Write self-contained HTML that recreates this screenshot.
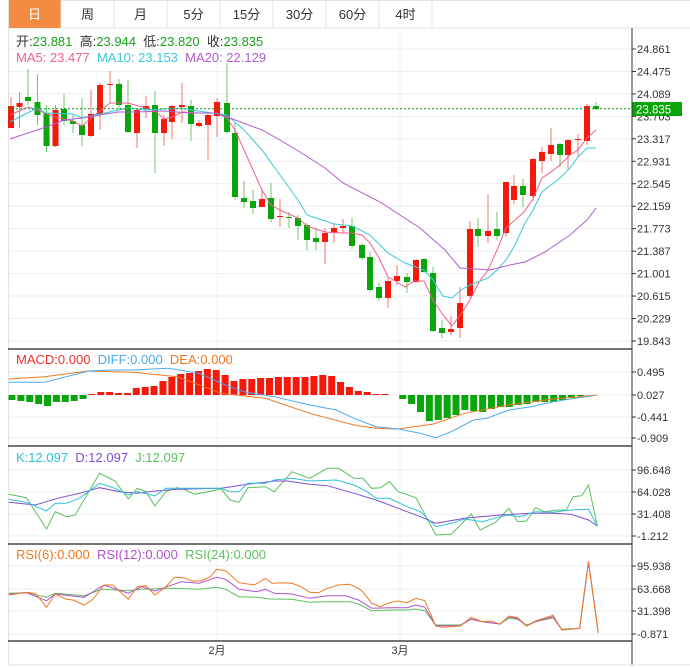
<!DOCTYPE html>
<html><head><meta charset="utf-8"><style>
body{margin:0;background:#fff;width:690px;height:668px;overflow:hidden;font-family:"Liberation Sans","Noto Sans CJK SC",sans-serif}
svg{position:absolute;left:0;top:0}
</style></head><body>
<svg id="s" width="690" height="668" xmlns="http://www.w3.org/2000/svg" font-family="Liberation Sans, Noto Sans CJK SC, sans-serif"></svg>
<script>
const S=document.getElementById('s');let h='';
function L(x1,y1,x2,y2,c,w,extra){h+=`<line x1="${x1}" y1="${y1}" x2="${x2}" y2="${y2}" stroke="${c}" stroke-width="${w||1}" ${extra||''}/>`;}
function R(x,y,w,hh,c){h+=`<rect x="${x}" y="${y}" width="${w}" height="${hh}" fill="${c}"/>`;}
function T(x,y,t,c,sz,a){h+=`<text x="${x}" y="${y}" fill="${c}" font-size="${sz||12}" ${a||''}>${t}</text>`;}
function P(pts,c){h+=`<polyline fill="none" stroke="${c}" stroke-width="1" points="${pts.map(p=>p.join(',')).join(' ')}"/>`;}
function Z(pts,yo){return pts.map(p=>[(p[0]/2.26).toFixed(1),(p[1]/3+yo).toFixed(1)]);}
R(8,0,682,28,'#fff');L(8,28,690,28,'#e3e3e3');L(8,0.5,690,0.5,'#e3e3e3');
const tabs=['日','周','月','5分','15分','30分','60分','4时'];
R(8,0,53,28,'#f38b40');
for(let i=0;i<tabs.length;i++){let x=8+i*53;L(x+53,0,x+53,28,'#e3e3e3');T(x+26.5,19,tabs[i],i==0?'#fff':'#333',13,'text-anchor="middle"');}
L(8.5,0,8.5,665,'#e3e3e3');
const py=p=>49+(24.861-p)/0.386*22.46;
const lv=[24.861,24.475,24.089,23.703,23.317,22.931,22.545,22.159,21.773,21.387,21.001,20.615,20.229,19.843];
lv.forEach(v=>{let y=py(v);L(8,y,632,y,'#e8eef2');L(632,y,636,y,'#333');T(637,y+4,v.toFixed(3),'#333',11);});
[217,400].forEach(x=>L(x,28,x,641,'#eef2f5'));
[[372,.495],[395,.027],[417,-.441],[438,-.909]].forEach(a=>{L(8,a[0],632,a[0],'#e8eef2');L(632,a[0],636,a[0],'#333');T(637,a[0]+4,a[1].toFixed(3),'#333',11);});
[[470,'96.648'],[492,'64.028'],[514,'31.408'],[536,'-1.212']].forEach(a=>{L(8,a[0],632,a[0],'#e8eef2');L(632,a[0],636,a[0],'#333');T(637,a[0]+4,a[1],'#333',11);});
[[566,'95.938'],[589,'63.668'],[611,'31.398'],[634,'-0.871']].forEach(a=>{L(8,a[0],632,a[0],'#e8eef2');L(632,a[0],636,a[0],'#333');T(637,a[0]+4,a[1],'#333',11);});
const C=[[11,'r',106,128,97,128],[19.5,'r',103,107,92,128],[28,'g',97,101,69,105],[37.5,'g',102,115,74,125],[46.5,'g',113,146,105,152],[55.5,'r',110,146,105,147],[64,'g',109,121,94,125],[73,'g',121,124,115,133],[82,'g',125,135,98,146],[91,'r',114,136,90,137],[100,'r',85,114,83,130],[110,'r',84,85,71,103],[119,'g',84,105,79,110],[128,'g',105,132,80,133],[137,'r',110,133,108,148],[146,'r',106,109,96,118],[155,'g',105,133,91,173],[164,'r',119,133,115,146],[172,'r',106,122,105,139],[182,'r',105,107,83,123],[191,'g',106,124,100,141],[199,'r',123,126,120,127],[208,'r',115,125,113,160],[217,'r',102,116,98,137],[227,'g',103,132,63,134],[235,'g',133,197,123,200],[244,'g',198,202,181,208],[253,'g',201,208,190,214],[262,'r',199,207,188,207],[271,'g',198,219,183,222],[280,'r',216,217,199,227],[289,'g',217,217,212,228],[298,'g',218,226,215,240],[307,'g',225,240,223,250],[316,'g',238,242,228,250],[325,'r',233,242,228,264],[334,'r',228,233,223,243],[343,'r',226,228,219,233],
[352,'g',226,246,218,249],[362,'g',245,258,243,260],[370,'g',257,290,252,292],[379,'g',287,298,283,301],[388,'r',281,298,278,308],[397,'r',276,281,265,285],[407,'g',277,282,273,293],[416,'r',260,282,259,283],[424,'g',259,272,258,273],[433,'g',273,331,267,332],[442,'g',328,333,320,338],[451,'r',329,332,316,335],[460,'r',303,328,287,338],[470,'r',229,296,221,298],[478,'g',229,236,218,247],[488,'r',231,236,194,243],[497,'g',229,236,212,240],[506,'r',182,233,182,237],[514,'r',186,200,175,204],[523,'g',186,195,179,207],[533,'r',159,196,158,201],[542,'r',152,161,147,173],[551,'r',145,154,128,161],[560,'g',144,155,143,167],[568,'r',140,155,139,169],[578,'r',139,140,134,156],[587,'r',106,141,104,145],[596,'g',106,109,102,110]];
C.forEach(c=>{let col=c[1]=='r'?'#f5190b':'#0aa50a',wc=c[1]=='r'?'#f27a72':'#6cc86c';L(c[0],c[4],c[0],c[5],wc);R(c[0]-3,c[2],6,Math.max(1,c[3]-c[2]),col);});
P([[10,115],[28,107],[37,110],[55,117],[73,121],[82,126],[91,118],[110,103],[128,103],[146,108],[155,111],[164,119],[172,117],[182,112],[200,113],[217,113],[227,118],[235,130],[244,150],[253,170],[262,190],[271,205],[280,210],[298,218],[307,226],[325,232],[343,233],[352,233],[362,235],[370,243],[379,258],[388,277],[397,282],[405,287],[414,281],[424,281],[433,300],[443,315],[452,326],[461,314],[470,300],[479,282],[488,270],[497,250],[506,228],[515,220],[524,212],[533,199],[542,178],[551,172],[560,165],[570,155],[578,150],[587,138],[596,130]],'#f0608c');
P([[10,122],[37,108],[46,113],[73,114],[82,118],[100,114],[128,108],[146,110],[182,108],[191,110],[227,115],[244,130],[262,150],[280,175],[298,200],[307,215],[316,218],[334,224],[352,226],[370,235],[388,253],[405,263],[424,270],[433,280],[443,296],[452,298],[461,290],[470,285],[488,278],[497,270],[506,260],[515,245],[524,225],[533,210],[542,192],[551,185],[560,178],[570,168],[578,157],[587,148],[596,148]],'#3cc8dc');
P([[10,139],[28,133],[46,127],[64,120],[82,118],[100,115],[118,112],[136,112],[164,111],[190,113],[217,113],[230,118],[262,130],[280,140],[300,152],[325,168],[343,183],[380,202],[400,215],[420,228],[445,250],[460,268],[490,270],[510,265],[525,262],[545,252],[570,235],[587,220],[596,208]],'#b05cd0');
L(8,108.7,632,108.7,'#0a9a0a',1,'stroke-dasharray="2,2"');
R(632,102,50,14,'#0aa50a');T(636,113.5,'23.835','#fff',11.5);
h+=`<text x="16" y="46" font-size="13" xml:space="preserve"><tspan fill="#333">开:</tspan><tspan fill="#1aa01a">23.881  </tspan><tspan fill="#333">高:</tspan><tspan fill="#1aa01a">23.944  </tspan><tspan fill="#333">低:</tspan><tspan fill="#1aa01a">23.820  </tspan><tspan fill="#333">收:</tspan><tspan fill="#1aa01a">23.835</tspan></text>`;
h+=`<text x="16" y="62" font-size="13" xml:space="preserve"><tspan fill="#f0608c">MA5: 23.477  </tspan><tspan fill="#3cc8dc">MA10: 23.153  </tspan><tspan fill="#b05cd0">MA20: 22.129</tspan></text>`;
[349,446,544,641].forEach(y=>L(8,y,632,y,'#222',1.2));
L(632,28,632,665,'#333');L(8,665,690,665,'#e3e3e3');
const MB=[400,401,402,404,406,402,402,401,399,394,392,392,393,393,388,387,386,381,377,374,373,371,369,370,375,381,379,379,378,378,377,377,377,377,376,375,376,382,387,391,392,394,394,395,399,404,412,421,420,418,415,410,411,412,409,407,407,405,404,402,402,402,400,398,396,395];
MB.forEach((y,i)=>{let x=12+i*8.88;if(y<395)R(x-3.5,y,7,395-y,'#f5190b');else if(y>395)R(x-3.5,395,7,y-395,'#0aa50a');});
P(Z([[20,102],[100,95],[200,78],[300,82],[400,95],[500,145],[600,160],[700,205],[800,240],[850,250],[900,252],[980,237],[1050,205],[1150,180],[1250,162],[1350,150]],345),'#f07820');
P(Z([[20,112],[100,112],[200,78],[250,75],[300,75],[380,70],[450,85],[500,115],[550,140],[620,155],[700,180],[760,195],[800,220],[850,245],[900,252],[950,265],[985,278],[1020,260],[1070,225],[1100,220],[1150,195],[1200,185],[1250,170],[1300,160],[1340,152]],345),'#4aa8f0');
h+=`<text x="16" y="364" font-size="13" xml:space="preserve"><tspan fill="#f0302a">MACD:0.000  </tspan><tspan fill="#4aa8f0">DIFF:0.000  </tspan><tspan fill="#f07820">DEA:0.000</tspan></text>`;
P(Z([[20,148],[60,158],[105,252],[125,200],[150,215],[170,210],[225,85],[260,108],[290,162],[310,130],[330,140],[350,183],[375,140],[400,128],[420,135],[440,148],[500,132],[520,165],[540,172],[560,128],[600,125],[620,140],[660,80],[700,100],[740,70],[765,70],[800,100],[820,100],[840,130],[860,128],[880,110],[900,140],[940,158],[985,270],[1020,268],[1065,207],[1085,255],[1120,232],[1150,190],[1170,230],[1190,228],[1210,188],[1230,200],[1260,195],[1280,195],[1295,155],[1315,152],[1330,120],[1350,243]],445),'#5cbf5c');
P(Z([[20,172],[80,180],[130,160],[180,145],[225,128],[270,140],[310,145],[350,138],[400,133],[500,130],[560,118],[620,108],[650,108],[700,118],[740,122],[800,145],[850,165],[900,190],[950,215],[985,235],[1050,220],[1130,210],[1200,205],[1250,205],[1290,208],[1330,225],[1350,243]],445),'#8050d0');
P(Z([[20,163],[60,172],[105,198],[125,175],[150,175],[180,160],[225,115],[260,130],[290,150],[310,140],[350,153],[375,130],[420,130],[500,130],[520,140],[540,140],[560,115],[600,115],[620,105],[660,100],[700,108],[760,105],[800,120],[830,140],[850,160],[880,160],[920,185],[950,200],[985,245],[1020,235],[1050,222],[1090,230],[1130,215],[1150,210],[1175,215],[1210,200],[1250,202],[1290,195],[1330,193],[1350,243]],445),'#30c0d8');
h+=`<text x="16" y="462" font-size="13" xml:space="preserve"><tspan fill="#30c0d8">K:12.097  </tspan><tspan fill="#8050d0">D:12.097  </tspan><tspan fill="#5cbf5c">J:12.097</tspan></text>`;
P(Z([[20,160],[60,158],[105,172],[125,160],[190,167],[230,148],[290,152],[320,148],[390,145],[450,148],[490,142],[510,148],[540,170],[580,172],[610,177],[660,178],[700,187],[740,185],[790,185],[810,192],[840,212],[880,210],[920,210],[940,207],[960,212],[985,255],[1040,255],[1065,238],[1090,245],[1130,252],[1150,235],[1170,238],[1190,255],[1210,245],[1250,233],[1270,268],[1310,265],[1330,65],[1352,278]],540),'#5cbf5c');
P(Z([[20,162],[60,158],[105,182],[125,162],[190,172],[235,135],[290,160],[320,140],[350,153],[410,125],[450,130],[490,112],[510,118],[540,148],[580,155],[600,148],[620,160],[660,162],[700,175],[740,167],[780,167],[810,180],[840,205],[880,203],[920,203],[940,195],[960,202],[985,257],[1040,257],[1065,237],[1090,245],[1130,252],[1150,230],[1170,236],[1190,258],[1210,245],[1250,230],[1270,270],[1310,265],[1330,65],[1352,278]],540),'#b050d0');
P(Z([[20,165],[60,157],[80,160],[105,202],[125,162],[150,178],[165,180],[190,195],[210,178],[235,135],[255,135],[290,178],[310,140],[330,137],[350,165],[375,140],[395,112],[415,113],[435,123],[455,123],[475,110],[490,88],[510,92],[540,128],[575,135],[600,115],[615,130],[640,128],[660,130],[680,140],[700,157],[720,158],[740,145],[765,135],[790,133],[810,145],[820,155],[840,190],[860,200],[880,188],[900,183],[920,188],[940,175],[960,182],[985,258],[1000,262],[1040,258],[1065,232],[1090,245],[1110,243],[1130,253],[1150,228],[1170,233],[1190,258],[1210,243],[1250,226],[1270,270],[1310,265],[1330,65],[1352,278]],540),'#f07820');
h+=`<text x="16" y="559" font-size="13" xml:space="preserve"><tspan fill="#f07820">RSI(6):0.000  </tspan><tspan fill="#b050d0">RSI(12):0.000  </tspan><tspan fill="#5cbf5c">RSI(24):0.000</tspan></text>`;
T(217,654,'2月','#333',11,'text-anchor="middle"');T(400,654,'3月','#333',11,'text-anchor="middle"');
S.innerHTML=h;
</script>
</body></html>
